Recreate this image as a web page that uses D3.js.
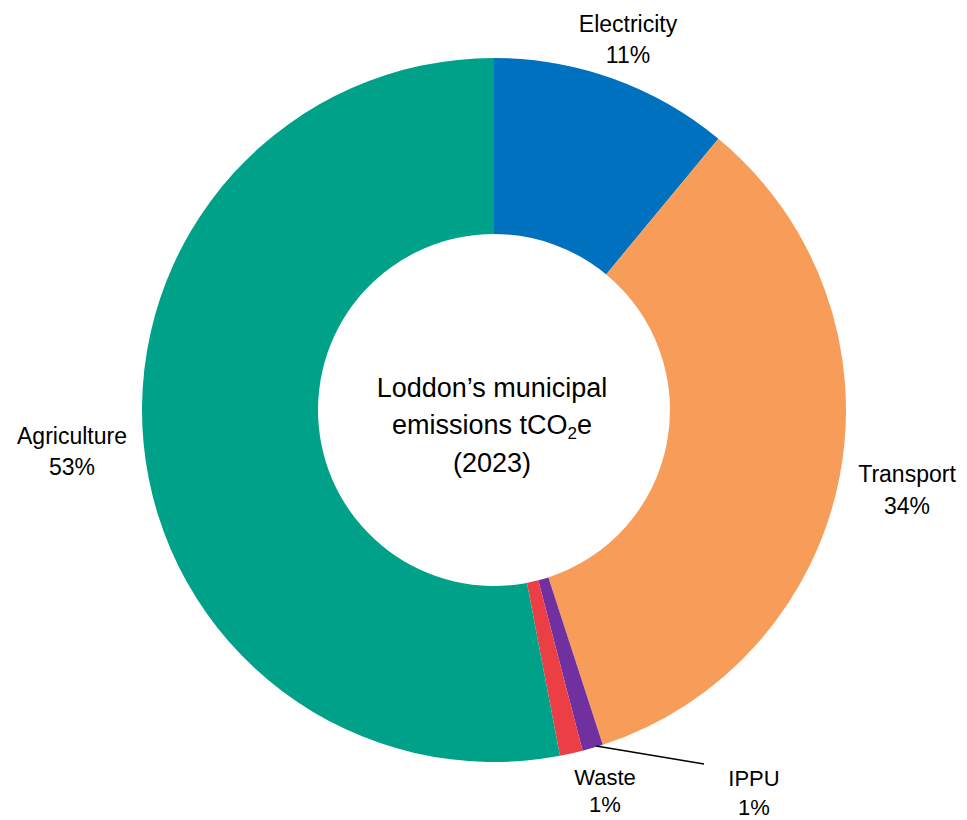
<!DOCTYPE html>
<html>
<head>
<meta charset="utf-8">
<script src="https://cdn.jsdelivr.net/npm/d3@7"></script>
<style>
  body { margin: 0; background: #fff; }
  text { font-family: "Liberation Sans", Arial, sans-serif; fill: #000; }
</style>
</head>
<body>
<div id="chart"></div>
<script>
// data (share of emissions, %)
var categories = ["Electricity", "Transport", "IPPU", "Waste", "Agriculture"];
var values = [11.0, 34.0, 0.95, 1.05, 53.0];
var pctLabels = ["11%", "34%", "1%", "1%", "53%"];
var colors = ["#0071BF", "#F79D59", "#7030A0", "#EC3F45", "#00A189"];

// layout for the outside labels: [x, y of first baseline, line gap, font size]
var labelPos = {
  "Electricity": [628, 32, 31, 23],
  "Transport": [907, 482, 32, 23],
  "IPPU": [754, 786, 29, 22],
  "Waste": [605, 785, 27, 22],
  "Agriculture": [72, 444, 31, 23]
};

var width = 967, height = 820;
var cx = 494, cy = 410;
var outerR = 352, innerR = 176;

var svg = d3.select("#chart").append("svg")
    .attr("width", width)
    .attr("height", height);

var data = categories.map(function(c, i) {
  return { name: c, value: values[i], pct: pctLabels[i], color: colors[i] };
});

var pie = d3.pie()
    .sort(null)
    .value(function(d) { return d.value; });

var arc = d3.arc()
    .innerRadius(innerR)
    .outerRadius(outerR);

var g = svg.append("g")
    .attr("transform", "translate(" + cx + "," + cy + ")");

var arcs = pie(data);

g.selectAll("path.slice")
  .data(arcs)
  .enter()
  .append("path")
    .attr("class", "slice")
    .attr("d", arc)
    .attr("fill", function(d) { return d.data.color; });

// leader line for IPPU
var ippu = arcs.find(function(d) { return d.data.name === "IPPU"; });
var mid = (ippu.startAngle + ippu.endAngle) / 2;
var lx = Math.sin(mid) * (outerR - 2), ly = -Math.cos(mid) * (outerR - 2);
g.append("line")
    .attr("x1", lx + 4)
    .attr("y1", ly)
    .attr("x2", 704 - cx)
    .attr("y2", 764 - cy)
    .attr("stroke", "#000")
    .attr("stroke-width", 1.5);

// outside labels
arcs.forEach(function(d) {
  var p = labelPos[d.data.name];
  var t = svg.append("text")
      .attr("text-anchor", "middle")
      .style("font-size", p[3] + "px");
  t.append("tspan").attr("x", p[0]).attr("y", p[1]).text(d.data.name);
  t.append("tspan").attr("x", p[0]).attr("y", p[1] + p[2]).text(d.data.pct);
});

// centre title
var title = svg.append("text")
    .attr("text-anchor", "middle")
    .style("font-size", "27px");
title.append("tspan").attr("x", 492).attr("y", 397).text("Loddon\u2019s municipal");
var l2 = title.append("tspan").attr("x", 492).attr("y", 434);
l2.append("tspan").text("emissions tCO");
l2.append("tspan").style("font-size", "17px").attr("dy", 5).text("2");
l2.append("tspan").attr("dy", -5).text("e");
title.append("tspan").attr("x", 492).attr("y", 472).text("(2023)");
</script>
</body>
</html>
